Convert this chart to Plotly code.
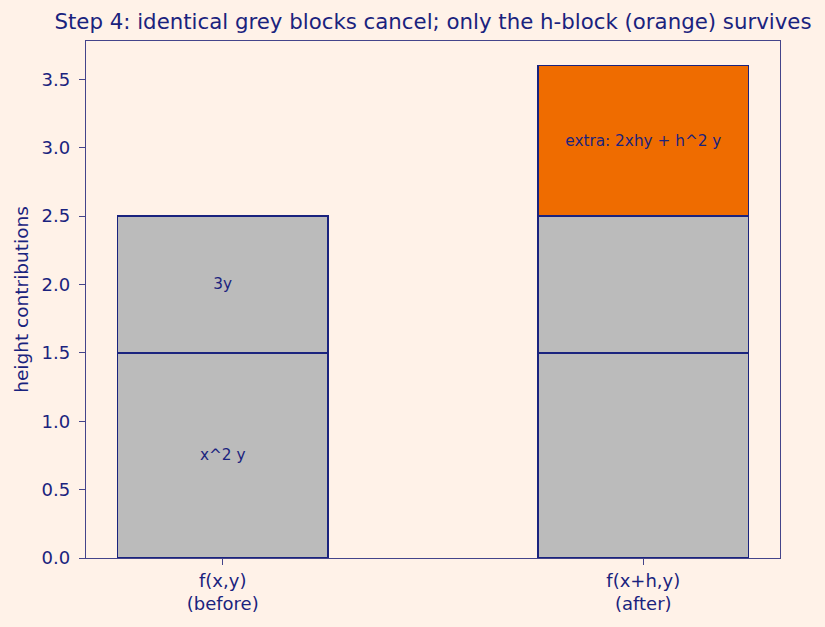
import plotly.graph_objects as go

categories = ["f(x,y)<br>(before)", "f(x+h,y)<br>(after)"]
x_pos = [0, 1]
base_block = [1.5, 1.5]
mid_block = [1.0, 1.0]
extra_block = [0.0, 1.1]
base_labels = ["x^2 y", ""]
mid_labels = ["3y", ""]
extra_labels = ["", "extra: 2xhy + h^2 y"]

NAVY = "#1A237E"
BG = "#FFF2E8"
GREY = "#BBBBBB"
ORANGE = "#EF6C00"
FONT = "DejaVu Sans"

fig = go.Figure()
for vals, labels, color in [(base_block, base_labels, GREY),
                            (mid_block, mid_labels, GREY),
                            (extra_block, extra_labels, ORANGE)]:
    fig.add_trace(go.Bar(
        x=x_pos, y=vals, width=0.5, text=labels,
        textposition="inside", insidetextanchor="middle", textangle=0,
        constraintext="none",
        textfont=dict(family=FONT, size=15.3, color=NAVY),
        marker=dict(color=color, line=dict(color=NAVY, width=1.7)),
        showlegend=False, hoverinfo="skip",
    ))

fig.update_layout(
    barmode="stack",
    width=825, height=627,
    paper_bgcolor=BG, plot_bgcolor=BG,
    margin=dict(l=86, r=45, t=41, b=69),
    font=dict(family=FONT, color=NAVY, size=18),
    title=dict(text="Step 4: identical grey blocks cancel; only the h-block (orange) survives",
               x=0.5, xref="paper", xanchor="center", y=1 - 22/627, yanchor="middle",
               font=dict(family=FONT, size=21.3, color=NAVY)),
)
fig.update_xaxes(range=[-0.325, 1.325], tickvals=x_pos, ticktext=categories,
                 showline=True, mirror=True, linecolor="#44448A", linewidth=1.3,
                 ticks="outside", ticklen=6, tickcolor="#44448A",
                 showgrid=False, zeroline=False,
                 tickfont=dict(family=FONT, size=18, color=NAVY))
fig.update_yaxes(range=[0, 3.78], tickvals=[0, 0.5, 1, 1.5, 2, 2.5, 3, 3.5], tickformat=".1f",
                 showline=True, mirror=True, linecolor="#44448A", linewidth=1.3,
                 ticks="outside", ticklen=6, tickcolor="#44448A",
                 ticklabelstandoff=5,
                 showgrid=False, zeroline=False,
                 title=dict(text="height contributions", font=dict(family=FONT, size=18.5, color=NAVY), standoff=8),
                 tickfont=dict(family=FONT, size=18, color=NAVY))

fig.write_html("out.html")
